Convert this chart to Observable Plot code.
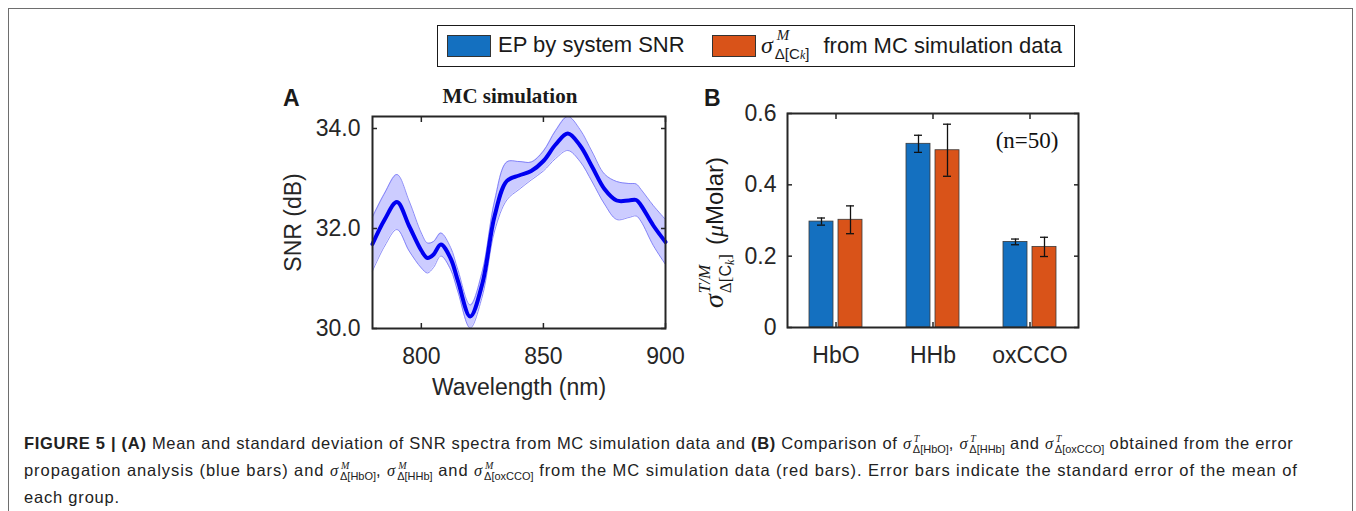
<!DOCTYPE html>
<html><head><meta charset="utf-8">
<script src="https://cdn.jsdelivr.net/npm/d3@7"></script>
<script src="https://cdn.jsdelivr.net/npm/@observablehq/plot@0.6"></script>
<style>
body{margin:0;width:1356px;height:511px;position:relative;background:#fff;overflow:hidden;font-family:"Liberation Sans",Arial,sans-serif;color:#1a1a1a;}
#border{position:absolute;left:8px;top:8px;width:1345px;height:600px;border:1.5px solid #6e6e6e;box-sizing:border-box;}
.abs{position:absolute;}
#legend{left:437px;top:25px;width:638px;height:42px;border:1.5px solid #1a1a1a;box-sizing:border-box;font-size:22px;}
.sw{position:absolute;top:9px;width:44px;height:22px;box-sizing:border-box;border:1px solid #333;}
.lt{position:absolute;top:5px;white-space:nowrap;line-height:28px;}
.sym{font-family:"Liberation Serif","Times New Roman",serif;font-style:italic;font-size:24px;}
.ss{display:inline-block;position:relative;line-height:1;font-size:15px;margin-left:2px;margin-right:8px;}
.ss .up{position:absolute;left:2px;top:-12px;font-family:"Liberation Serif",serif;font-style:italic;}
.ss .dn{display:inline-block;position:relative;top:6px;font-family:"Liberation Sans",Arial,sans-serif;font-style:normal;}
#title{left:410px;top:84px;width:200px;text-align:center;font-family:"Liberation Serif","Times New Roman",serif;font-weight:bold;font-size:21px;}
.plabel{font-weight:bold;font-size:23px;}
#caption{left:24px;top:430px;font-family:"Liberation Sans",Arial,sans-serif;font-size:16.5px;line-height:26px;white-space:nowrap;color:#222;}
#caption .l1{letter-spacing:0.7px;}
#caption .l2{letter-spacing:0.93px;}
#caption .l3{letter-spacing:0.8px;}
#caption .g{font-family:"Liberation Serif","Times New Roman",serif;font-style:italic;}
.cs{display:inline-block;position:relative;line-height:1;font-size:11px;letter-spacing:0;margin-left:1px;}
.cs .u{position:absolute;left:1px;top:-6px;font-size:10px;font-family:"Liberation Serif",serif;font-style:italic;}
.cs .d{display:inline-block;position:relative;top:4px;}
</style></head>
<body>
<div id="border"></div>
<div id="legend" class="abs">
  <div class="sw" style="left:9px;background:#1470C0"></div>
  <div class="lt" style="left:60px">EP by system SNR</div>
  <div class="sw" style="left:274px;background:#D95319"></div>
  <div class="lt" style="left:323px"><span class="sym">σ</span><span class="ss"><span class="up">M</span><span class="dn">Δ[C<span style="font-size:0.8em;font-family:'Liberation Serif',serif;font-style:italic">k</span>]</span></span> from MC simulation data</div>
</div>
<div id="title" class="abs">MC simulation</div>
<div class="abs plabel" style="left:283px;top:85px">A</div>
<div class="abs plabel" style="left:704px;top:85px">B</div>
<div id="panelA" class="abs" style="left:270px;top:80px"></div>
<div id="panelB" class="abs" style="left:700px;top:80px"></div>
<div id="caption" class="abs">
<span class="l1"><b>FIGURE 5 | (A)</b> Mean and standard deviation of SNR spectra from MC simulation data and <b>(B)</b> Comparison of <span class="g">σ</span><span class="cs"><span class="u">T</span><span class="d">Δ[HbO]</span></span>, <span class="g">σ</span><span class="cs"><span class="u">T</span><span class="d">Δ[HHb]</span></span> and <span class="g">σ</span><span class="cs"><span class="u">T</span><span class="d">Δ[oxCCO]</span></span> obtained from the error</span><br>
<span class="l2">propagation analysis (blue bars) and <span class="g">σ</span><span class="cs"><span class="u">M</span><span class="d">Δ[HbO]</span></span>, <span class="g">σ</span><span class="cs"><span class="u">M</span><span class="d">Δ[HHb]</span></span> and <span class="g">σ</span><span class="cs"><span class="u">M</span><span class="d">Δ[oxCCO]</span></span> from the MC simulation data (red bars). Error bars indicate the standard error of the mean of</span><br>
<span class="l3">each group.</span>
</div>
<script>
// ---- Panel A data: SNR spectrum (mean ± SD) ----
const wavelength = [780,785,790,795,800,802.5,805,808,812,815,820,825,830,835,840,845,850,855,860,865,870,875,880,885,888,890,895,900];
const snrMean    = [31.69,32.18,32.53,32.05,31.56,31.41,31.48,31.68,31.40,30.95,30.24,30.90,32.25,32.95,33.06,33.15,33.35,33.68,33.90,33.66,33.23,32.79,32.56,32.56,32.57,32.46,32.06,31.73];
const snrSD      = [0.54,0.53,0.55,0.50,0.35,0.30,0.26,0.23,0.22,0.22,0.23,0.25,0.30,0.38,0.28,0.18,0.20,0.28,0.34,0.32,0.30,0.30,0.38,0.34,0.32,0.32,0.40,0.45];
const xTicksA = [800, 850, 900];
const yTicksA = [30, 32, 34];

// ---- Panel B data ----
const categories = ["HbO", "HHb", "oxCCO"];
const epValues = [0.297, 0.515, 0.240];
const epErr    = [0.010, 0.024, 0.008];
const mcValues = [0.302, 0.497, 0.226];
const mcErr    = [0.039, 0.073, 0.027];
const yTicksB = [0, 0.2, 0.4, 0.6];
const annotation = "(n=50)";

const snrData = wavelength.map((w, i) => ({w, m: snrMean[i], lo: snrMean[i] - snrSD[i], hi: snrMean[i] + snrSD[i]}));
const epRows = categories.map((c, i) => ({c, v: epValues[i], lo: epValues[i] - epErr[i], hi: epValues[i] + epErr[i]}));
const mcRows = categories.map((c, i) => ({c, v: mcValues[i], lo: mcValues[i] - mcErr[i], hi: mcValues[i] + mcErr[i]}));

const axisStyle = {fontFamily: "Liberation Sans, Arial, sans-serif", fontSize: "23px", color: "#262626", background: "transparent", overflow: "visible"};
const frameColor = "#262626";

const A = Plot.plot({
  width: 430, height: 320,
  marginLeft: 102, marginRight: 35, marginTop: 36, marginBottom: 72,
  x: {domain: [780, 900]},
  y: {domain: [30, 34.24]},
  style: axisStyle,
  marks: [
    Plot.areaY(snrData, {x: "w", y1: "lo", y2: "hi", fill: "#0000ff", fillOpacity: 0.2, curve: "catmull-rom"}),
    Plot.lineY(snrData, {x: "w", y: "lo", stroke: "#6f6ff5", strokeWidth: 0.8, curve: "catmull-rom"}),
    Plot.lineY(snrData, {x: "w", y: "hi", stroke: "#6f6ff5", strokeWidth: 0.8, curve: "catmull-rom"}),
    Plot.lineY(snrData, {x: "w", y: "m", stroke: "#0000f0", strokeWidth: 4, curve: "catmull-rom"}),
    Plot.axisX({anchor: "bottom", ticks: xTicksA, tickSize: -5, tickPadding: 24, stroke: frameColor, strokeWidth: 1.5, label: "Wavelength (nm)", labelAnchor: "center", labelOffset: 66, labelArrow: "none", fontSize: 23}),
    Plot.axisX({anchor: "top", ticks: xTicksA, tickSize: -5, tickFormat: () => "", label: null, stroke: frameColor, strokeWidth: 1.5}),
    Plot.axisY({anchor: "left", ticks: yTicksA, tickSize: -5, tickPadding: 17, tickFormat: d3.format(".1f"), stroke: frameColor, strokeWidth: 1.5, label: "SNR (dB)", labelAnchor: "center", labelOffset: 88, labelArrow: "none"}),
    Plot.axisY({anchor: "right", ticks: yTicksA, tickSize: -5, tickFormat: () => "", label: null, stroke: frameColor, strokeWidth: 1.5}),
    Plot.frame({stroke: frameColor, strokeWidth: 2})
  ]
});
document.getElementById("panelA").append(A);

const blue = "#1470C0", red = "#D95319";
const B = Plot.plot({
  width: 385, height: 320,
  marginLeft: 87, marginRight: 7, marginTop: 33, marginBottom: 73,
  x: {domain: categories, padding: 0},
  y: {domain: [0, 0.6]},
  style: axisStyle,
  marks: [
    Plot.barY(epRows, {x: "c", y: "v", fill: blue, stroke: "#3a3a3a", strokeWidth: 0.8, insetLeft: 22, insetRight: 51}),
    Plot.barY(mcRows, {x: "c", y: "v", fill: red, stroke: "#3a3a3a", strokeWidth: 0.8, insetLeft: 51, insetRight: 22}),
    Plot.ruleX(epRows, {x: "c", y1: "lo", y2: "hi", stroke: "#111", strokeWidth: 1.3, dx: -14.5}),
    Plot.ruleX(mcRows, {x: "c", y1: "lo", y2: "hi", stroke: "#111", strokeWidth: 1.3, dx: 14.5}),
    Plot.tickY(epRows, {x: "c", y: "lo", stroke: "#111", strokeWidth: 1.3, insetLeft: 30, insetRight: 59}),
    Plot.tickY(epRows, {x: "c", y: "hi", stroke: "#111", strokeWidth: 1.3, insetLeft: 30, insetRight: 59}),
    Plot.tickY(mcRows, {x: "c", y: "lo", stroke: "#111", strokeWidth: 1.3, insetLeft: 59, insetRight: 30}),
    Plot.tickY(mcRows, {x: "c", y: "hi", stroke: "#111", strokeWidth: 1.3, insetLeft: 59, insetRight: 30}),
    Plot.text([annotation], {frameAnchor: "top-right", dx: -20, dy: 18, lineAnchor: "top", fontFamily: "Liberation Serif, Times New Roman, serif", fontSize: 23, fill: "#111"}),
    Plot.axisX({anchor: "bottom", tickSize: -5, tickPadding: 24, stroke: frameColor, strokeWidth: 1.5, label: null}),
    Plot.axisX({anchor: "top", tickSize: -5, tickFormat: () => "", label: null, stroke: frameColor, strokeWidth: 1.5}),
    Plot.axisY({anchor: "left", ticks: yTicksB, tickSize: -5, tickPadding: 16, tickFormat: d => d === 0 ? "0" : d.toFixed(1), stroke: frameColor, strokeWidth: 1.5, label: null}),
    Plot.axisY({anchor: "right", ticks: yTicksB, tickSize: -5, tickFormat: () => "", label: null, stroke: frameColor, strokeWidth: 1.5}),
    Plot.frame({stroke: frameColor, strokeWidth: 2})
  ]
});
document.getElementById("panelB").append(B);

// y-axis label of panel B: σ^{T/M}_{Δ[C_k]} (μMolar)
(function () {
  const svg = d3.select(B.tagName.toLowerCase() === "svg" ? B : B.querySelector("svg"));
  const g = svg.append("g").attr("transform", "translate(23,228) rotate(-90)");
  const t = g.append("text").attr("text-anchor", "start").attr("fill", "#1a1a1a").attr("font-size", 17);
  const serif = "Liberation Serif, Times New Roman, serif", sans = "Liberation Sans, Arial, sans-serif";
  t.append("tspan").text("σ").attr("font-family", serif).attr("font-style", "italic").attr("font-size", 28);
  const s1 = t.append("tspan").text("Δ[").attr("dx", 1).attr("dy", 8).attr("font-size", 17).attr("font-family", serif);
  const s2 = t.append("tspan").text("C").attr("font-size", 16).attr("font-family", sans);
  const s3 = t.append("tspan").text("k").attr("dy", 3).attr("font-size", 12).attr("font-style", "italic").attr("font-family", serif);
  const s4 = t.append("tspan").text("]").attr("dy", -3).attr("font-size", 17).attr("font-family", serif);
  const wSub = [s1, s2, s3, s4].reduce((a, s) => a + s.node().getComputedTextLength(), 0) + 1;
  const sup = t.append("tspan").text("T/M").attr("dx", -wSub + 1).attr("dy", -21).attr("font-size", 17).attr("font-style", "italic").attr("font-family", serif);
  const wSup = sup.node().getComputedTextLength();
  t.append("tspan").text("(").attr("dx", Math.max(0, wSub - 1 - wSup) + 9).attr("dy", 13).attr("font-size", 24).attr("font-family", sans);
  t.append("tspan").text("μ").attr("font-size", 24).attr("font-style", "italic").attr("font-family", serif);
  t.append("tspan").text("Molar)").attr("font-size", 24).attr("font-family", sans);
})();
</script>
</body></html>
